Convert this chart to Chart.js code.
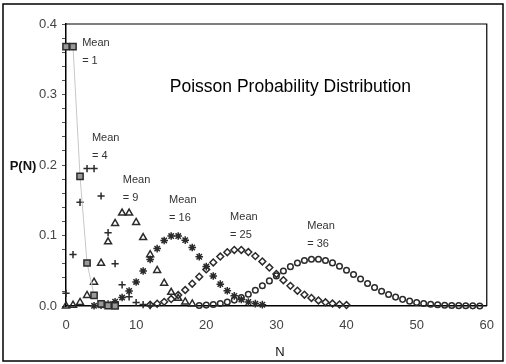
<!DOCTYPE html>
<html lang="en">
<head>
<meta charset="UTF-8">
<title>Poisson Probability Distribution</title>
<script src="https://cdn.jsdelivr.net/npm/chart.js@4.4.0/dist/chart.umd.min.js"></script>
<style>
  html, body { margin: 0; padding: 0; background: #fff; }
  #wrap { width: 506px; height: 364px; position: relative; }
</style>
</head>
<body>
<div id="wrap"><canvas id="poisson"></canvas></div>
<script>
// values, N = start, start+1, ...
const means = [1, 4, 9, 16, 25, 36];
const starts = [0, 0, 0, 4, 12, 19];
const mean1 = [0.368, 0.368, 0.184, 0.061, 0.015, 0.003, 0.0005, 0.0001];
const mean4 = [0.018, 0.073, 0.147, 0.195, 0.195, 0.156, 0.104, 0.060, 0.030, 0.013, 0.005, 0.002, 0.0006];
const mean9 = [0.0001, 0.0011, 0.005, 0.015, 0.0337, 0.0607, 0.0911, 0.1171, 0.1318, 0.1318, 0.1186, 0.097,
  0.0728, 0.0504, 0.0324, 0.0194, 0.0109, 0.0058, 0.0029];
const mean16 = [0.0003, 0.001, 0.0026, 0.006, 0.012, 0.0213, 0.0341, 0.0496, 0.0661, 0.0814, 0.093, 0.0992, 0.0992,
  0.0934, 0.083, 0.0699, 0.0559, 0.0426, 0.031, 0.0216, 0.0144, 0.0092, 0.0057, 0.0034, 0.0019];
const mean25 = [0.0017, 0.0033, 0.0059, 0.0099, 0.0155, 0.0227, 0.0316, 0.0415, 0.0519, 0.0618, 0.0702, 0.0763,
  0.0795, 0.0795, 0.0765, 0.0708, 0.0632, 0.0545, 0.0454, 0.0366, 0.0286, 0.0217, 0.016, 0.0114, 0.0079, 0.0053,
  0.0035, 0.0022, 0.0014];
const mean36 = [0.0007, 0.0013, 0.0022, 0.0036, 0.0056, 0.0084, 0.0121, 0.0167, 0.0223, 0.0287, 0.0356, 0.0427,
  0.0496, 0.0558, 0.0609, 0.0645, 0.0663, 0.0663, 0.0645, 0.0611, 0.0564, 0.0508, 0.0446, 0.0382, 0.032, 0.0262,
  0.021, 0.0164, 0.0126, 0.0094, 0.0069, 0.005, 0.0035, 0.0024, 0.0017, 0.0011, 0.0007, 0.0005, 0.0003, 0.0002, 0.0001];
const xTicks = [0, 10, 20, 30, 40, 50, 60];
const yTicks = [0.0, 0.1, 0.2, 0.3, 0.4];
// where the "Mean = k" notes sit, in N / P(N)
const noteX = [2.3, 3.7, 8.1, 14.7, 23.4, 34.4];
const noteY = [0.373, 0.239, 0.179, 0.150, 0.126, 0.113];

const series = [mean1, mean4, mean9, mean16, mean25, mean36];
const styles = ['rect', 'cross', 'triangle', 'star', 'rectRot', 'circle'];
const radii = [4.4, 3.6, 4, 3.8, 3.4, 2.8];

const ink = '#2b2b2b';
const font = '"Liberation Sans", Arial, sans-serif';
const datasets = series.map((vals, i) => ({
  label: 'Mean = ' + means[i],
  data: vals.map((v, k) => ({ x: starts[i] + k, y: v })),
  pointStyle: styles[i],
  pointRadius: radii[i],
  pointBorderColor: ink,
  pointBackgroundColor: i === 0 ? '#999' : 'rgba(0,0,0,0)',
  pointBorderWidth: 1.5,
  showLine: i === 0,
  borderColor: '#c8c8c8',
  borderWidth: 1,
  clip: false
}));

const decor = {
  id: 'decor',
  afterDraw(chart) {
    const { ctx, chartArea: a, scales } = chart;
    ctx.save();
    ctx.strokeStyle = '#000';
    ctx.lineWidth = 1.5;
    ctx.strokeRect(3, 4, 500, 357);
    ctx.lineWidth = 1.2;
    ctx.beginPath();
    ctx.moveTo(a.left, a.top);
    ctx.lineTo(a.right, a.top);
    ctx.lineTo(a.right, a.bottom);
    ctx.stroke();

    ctx.fillStyle = '#000';
    ctx.textBaseline = 'middle';
    ctx.textAlign = 'center';
    ctx.font = '17.5px ' + font;
    ctx.fillText('Poisson Probability Distribution', scales.x.getPixelForValue(32), scales.y.getPixelForValue(0.311));
    ctx.fillStyle = '#111';
    ctx.font = 'bold 13px ' + font;
    ctx.fillText('P(N)', 23, 166);
    ctx.font = '13px ' + font;
    ctx.fillText('N', 280, 352);

    ctx.fillStyle = '#333';
    ctx.textAlign = 'left';
    ctx.font = '11px ' + font;
    means.forEach((m, i) => {
      const px = scales.x.getPixelForValue(noteX[i]);
      const py = scales.y.getPixelForValue(noteY[i]);
      ctx.fillText('Mean', px, py);
      ctx.fillText('= ' + m, px, py + 18);
    });
    ctx.restore();
  }
};

new Chart(document.getElementById('poisson'), {
  type: 'scatter',
  data: { datasets },
  options: {
    responsive: true,
    maintainAspectRatio: false,
    animation: false,
    layout: { autoPadding: false, padding: { left: 0, right: 15, top: 24, bottom: 0 } },
    plugins: { legend: { display: false }, tooltip: { enabled: false } },
    scales: {
      x: {
        type: 'linear',
        min: xTicks[0],
        max: xTicks[xTicks.length - 1],
        afterBuildTicks: s => { s.ticks = xTicks.map(v => ({ value: v })); },
        afterFit: s => { s.height = 58; },
        grid: { display: true, drawOnChartArea: false, drawTicks: false },
        border: { color: '#000', width: 1.5 },
        ticks: { color: '#444', padding: 12, font: { size: 13, family: font } }
      },
      y: {
        type: 'linear',
        min: yTicks[0],
        max: yTicks[yTicks.length - 1],
        ticks: {
          stepSize: 0.02,
          autoSkip: false,
          color: '#444',
          padding: 5,
          font: { size: 13, family: font },
          callback: v => {
            const t = yTicks.find(y => Math.abs(y - v) < 1e-6);
            return t === undefined ? '' : t.toFixed(1);
          }
        },
        afterFit: s => { s.width = 66; },
        grid: { drawOnChartArea: false, tickLength: 4, color: '#555' },
        border: { color: '#000', width: 1.5 }
      }
    }
  },
  plugins: [decor]
});
</script>
</body>
</html>
